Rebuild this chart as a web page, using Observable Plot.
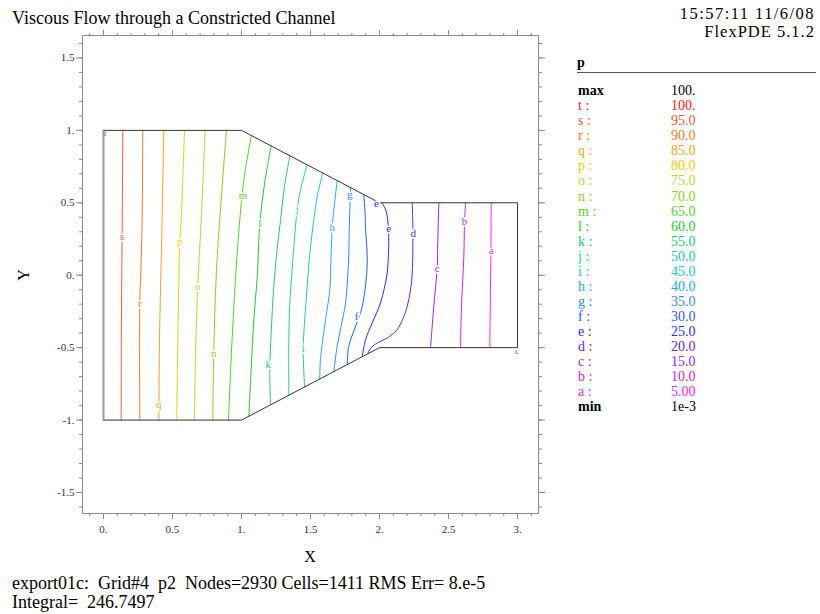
<!DOCTYPE html>
<html><head><meta charset="utf-8">
<script src="https://cdn.jsdelivr.net/npm/d3@7"></script>
<script src="https://cdn.jsdelivr.net/npm/@observablehq/plot@0.6"></script>
<style>
body{margin:0;background:#fff;}
#wrap{position:relative;width:820px;height:614px;font-family:"Liberation Serif","Times New Roman",serif;color:#000;overflow:hidden;background:#fff}
#wrap svg{position:absolute;left:0;top:0}
.t{position:absolute;white-space:pre;line-height:1;}
</style></head><body><div id="wrap"></div>
<script>
// ---- legend / level data ----
const levelNames  = ["t","s","r","q","p","o","n","m","l","k","j","i","h","g","f","e","d","c","b","a"];
const levelValues = ["100.","95.0","90.0","85.0","80.0","75.0","70.0","65.0","60.0","55.0","50.0","45.0","40.0","35.0","30.0","25.0","20.0","15.0","10.0","5.00"];
const levelColors = ["#ff1a1a","#f05a3a","#f07a22","#f0a424","#e8cc10","#b8d830","#8cd018","#58d028","#28c440","#28c47c","#28c8a8","#28c0d0","#28a8e8","#3088f0","#2860f0","#2c2cf0","#6424e8","#9428f0","#c028f0","#f028f0"];
const maxValue = "100.";
const minValue = "1e-3";

// ---- channel boundary ----
const boundaryX = [0, 1, 2, 3, 3, 2, 1, 0];
const boundaryY = [1, 1, 0.5, 0.5, -0.5, -0.5, -1, -1];
const inletX = [0, 0];
const inletY = [-1, 1];

// ---- contour lines: [x, y] ----
const cS = [[0.140,1],[0.136,0.383],[0.130,-0.307],[0.128,-1]];
const cR = [[0.285,1],[0.280,0.383],[0.270,0],[0.263,-0.19],[0.263,-1]];
const cQ = [[0.437,1],[0.425,0.383],[0.413,-0.12],[0.406,-0.42],[0.401,-1]];
const cP = [[0.587,1],[0.563,0.383],[0.553,0.233],[0.541,-0.307],[0.531,-1]];
const cO = [[0.737,1],[0.708,0.383],[0.683,-0.077],[0.667,-0.537],[0.659,-1]];
const cN = [[0.891,1],[0.860,0.613],[0.819,0.038],[0.799,-0.537],[0.792,-1]];
const cM = [[1.072,0.964],[1.017,0.659],[0.969,0.153],[0.933,-0.422],[0.906,-1]];
const cL = [[1.215,0.893],[1.17,0.65],[1.133,0.36],[1.115,0.0],[1.09,-0.3],[1.07,-0.65],[1.053,-0.974]];
const cK = [[1.350,0.825],[1.31,0.6],[1.283,0.383],[1.255,0.15],[1.234,-0.077],[1.215,-0.4],[1.205,-0.65],[1.210,-0.895]];
const cJ = [[1.476,0.762],[1.43,0.6],[1.404,0.457],[1.38,0.2],[1.367,0.038],[1.35,-0.2],[1.343,-0.422],[1.343,-0.828]];
const cI = [[1.589,0.705],[1.55,0.55],[1.524,0.383],[1.495,0.15],[1.476,-0.077],[1.455,-0.35],[1.447,-0.509],[1.457,-0.771]];
const cH = [[1.693,0.652],[1.675,0.5],[1.657,0.332],[1.648,0.1],[1.64,-0.1],[1.609,-0.307],[1.572,-0.583],[1.567,-0.716]];
const cG = [[1.79,0.605],[1.785,0.45],[1.78,0.3],[1.778,0.153],[1.77,0],[1.754,-0.192],[1.72,-0.36],[1.693,-0.491],[1.669,-0.665]];
const cF = [[1.886,0.557],[1.897,0.4],[1.899,0.314],[1.908,0.2],[1.911,0.084],[1.9,-0.06],[1.875,-0.215],[1.84,-0.32],[1.80,-0.42],[1.775,-0.5],[1.766,-0.617]];
const cE = [[2.019,0.5],[2.045,0.45],[2.056,0.406],[2.067,0.268],[2.065,0.15],[2.056,0.015],[2.035,-0.09],[2.007,-0.192],[1.947,-0.33],[1.899,-0.445],[1.875,-0.5625]];
const cD = [[2.237,0.5],[2.242,0.3],[2.237,0.015],[2.225,-0.1],[2.201,-0.215],[2.17,-0.3],[2.128,-0.376],[2.09,-0.41],[2.056,-0.433],[2.0,-0.46],[1.971,-0.475],[1.935,-0.505],[1.915,-0.54]];
const cC = [[2.430,0.5],[2.422,0.222],[2.418,0.05],[2.393,-0.215],[2.37,-0.5]];
const cB = [[2.623,0.5],[2.616,0.37],[2.611,0.13],[2.594,-0.215],[2.587,-0.5]];
const cA = [[2.809,0.5],[2.807,0.17],[2.799,-0.5]];
const contourNames = ["s","r","q","p","o","n","m","l","k","j","i","h","g","f","e","d","c","b","a"];
const contourPaths = [cS,cR,cQ,cP,cO,cN,cM,cL,cK,cJ,cI,cH,cG,cF,cE,cD,cC,cB,cA];

// ---- contour labels ----
const labelNames = ["s","r","q","p","o","n","m","l","k","j","i","h","g","f","e","e","d","c","b","a"];
const labelX = [0.135,0.263,0.401,0.553,0.683,0.799,1.012,1.133,1.193,1.404,1.447,1.657,1.785,1.833,1.978,2.067,2.244,2.418,2.616,2.809];
const labelY = [0.268,-0.192,-0.893,0.233,-0.077,-0.537,0.548,0.36,-0.617,0.457,-0.509,0.332,0.555,-0.284,0.493,0.326,0.291,0.05,0.371,0.169];
const cornerNames = ["t","c"];
const cornerX = [0.012, 2.995];
const cornerY = [0.98, -0.525];

// ---- axes ----
const xMajor = [0, 0.5, 1, 1.5, 2, 2.5, 3];
const yMajor = [-1.5, -1, -0.5, 0, 0.5, 1, 1.5];
const xMinor = d3.range(-1, 32).map(i => i / 10);
const yMinor = d3.range(-16, 17).map(i => i / 10);
const fmt = d => Number.isInteger(d) ? `${d}.` : `${d}`;

// ---- build tables ----
const lineRows = contourPaths.flatMap((pts, i) => pts.map(([x, y]) => ({x, y, name: contourNames[i]})));
const boundaryRows = boundaryX.map((x, i) => ({x, y: boundaryY[i]}));
const inletRows = inletX.map((x, i) => ({x, y: inletY[i]}));
const labelRows = labelNames.map((name, i) => ({name, x: labelX[i], y: labelY[i]}));
const cornerRows = cornerNames.map((name, i) => ({name, x: cornerX[i], y: cornerY[i]}));

const tickStroke = "#8a8a8a";
const plot = Plot.plot({
  width: 820, height: 614,
  marginLeft: 82, marginRight: 282, marginTop: 35, marginBottom: 101,
  style: {fontFamily: "'Liberation Serif', 'Times New Roman', serif", fontSize: "11px", color: "#333", background: "transparent"},
  x: {domain: [-0.152, 3.152], label: null},
  y: {domain: [-1.645, 1.655], label: null},
  color: {domain: levelNames, range: levelColors},
  marks: [
    Plot.frame({stroke: tickStroke}),
    Plot.axisX({anchor: "bottom", ticks: xMinor, tickSize: 3, tickFormat: () => "", stroke: tickStroke, label: null}),
    Plot.axisX({anchor: "bottom", ticks: xMajor, tickSize: 6, tickPadding: 6, tickFormat: fmt, stroke: tickStroke, fill: "#333", label: null}),
    Plot.axisX({anchor: "top", ticks: xMinor, tickSize: 3, tickFormat: () => "", stroke: tickStroke, label: null}),
    Plot.axisX({anchor: "top", ticks: xMajor, tickSize: 6, tickFormat: () => "", stroke: tickStroke, label: null}),
    Plot.axisY({anchor: "left", ticks: yMinor, tickSize: 3, tickFormat: () => "", stroke: tickStroke, label: null}),
    Plot.axisY({anchor: "left", ticks: yMajor, tickSize: 6, tickPadding: 2, tickFormat: fmt, stroke: tickStroke, fill: "#333", label: null}),
    Plot.axisY({anchor: "right", ticks: yMinor, tickSize: 3, tickFormat: () => "", stroke: tickStroke, label: null}),
    Plot.axisY({anchor: "right", ticks: yMajor, tickSize: 6, tickFormat: () => "", stroke: tickStroke, label: null}),
    Plot.line(lineRows, {x: "x", y: "y", z: "name", stroke: "name", strokeWidth: 1, curve: "catmull-rom"}),
    Plot.line(boundaryRows, {x: "x", y: "y", stroke: "#333", strokeWidth: 1}),
    Plot.line(inletRows, {x: "x", y: "y", stroke: "#999", strokeWidth: 2}),
    Plot.text(labelRows, {x: "x", y: "y", text: "name", fill: "name", stroke: "white", strokeWidth: 3, fontSize: 11}),
    Plot.text(cornerRows, {x: "x", y: "y", text: "name", fill: "#555", fontSize: 8})
  ]
});

const wrap = document.getElementById("wrap");
wrap.appendChild(plot);

function addText(txt, left, top, size, opts = {}) {
  const d = document.createElement("div");
  d.className = "t";
  d.textContent = txt;
  d.style.left = left + "px";
  d.style.top = top + "px";
  d.style.fontSize = size + "px";
  if (opts.color) d.style.color = opts.color;
  if (opts.bold) d.style.fontWeight = "bold";
  if (opts.lh) d.style.lineHeight = opts.lh + "px";
  if (opts.ls) d.style.letterSpacing = opts.ls + "px";
  if (opts.right) { d.style.left = "auto"; d.style.right = (820 - left) + "px"; }
  if (opts.center) d.style.transform = "translateX(-50%)";
  if (opts.rotate) d.style.transform = "translate(-50%,-50%) rotate(-90deg)";
  wrap.appendChild(d);
  return d;
}

addText("Viscous Flow through a Constricted Channel", 12, 8.5, 18, {lh: 18});
// right-hand header: two lines, kept apart so the glyph boxes do not touch
addText("15:57:11 11/6/08", 815, 5.5, 16.5, {right: true, lh: 16.5, ls: 1.45});
addText("FlexPDE 5.1.2", 815, 24, 16.5, {right: true, lh: 16.5, ls: 1.0});
addText("export01c:  Grid#4  p2  Nodes=2930 Cells=1411 RMS Err= 8.e-5", 12, 574, 18, {lh: 18});
addText("Integral=  246.7497", 12, 593, 18, {lh: 18});
addText("X", 310, 549, 16, {center: true});
addText("Y", 24, 275, 16, {rotate: true});

// legend
addText("p", 577, 55.5, 14, {bold: true});
const rule = document.createElement("div");
rule.style.cssText = "position:absolute;left:577px;top:71.5px;width:239px;height:1.5px;background:#555";
wrap.appendChild(rule);
const rowGap = 15.03, firstBase = 96, fs = 14, off = 11.7;
addText("max", 578, firstBase - off, fs, {bold: true});
addText(maxValue, 671, firstBase - off, fs);
levelNames.forEach((n, i) => {
  const top = firstBase + rowGap * (i + 1) - off;
  addText(n + " :", 578, top, fs, {color: levelColors[i]});
  addText(levelValues[i], 671, top, fs, {color: levelColors[i]});
});
addText("min", 578, firstBase + rowGap * 21 - off, fs, {bold: true});
addText(minValue, 671, firstBase + rowGap * 21 - off, fs);
</script></body></html>
